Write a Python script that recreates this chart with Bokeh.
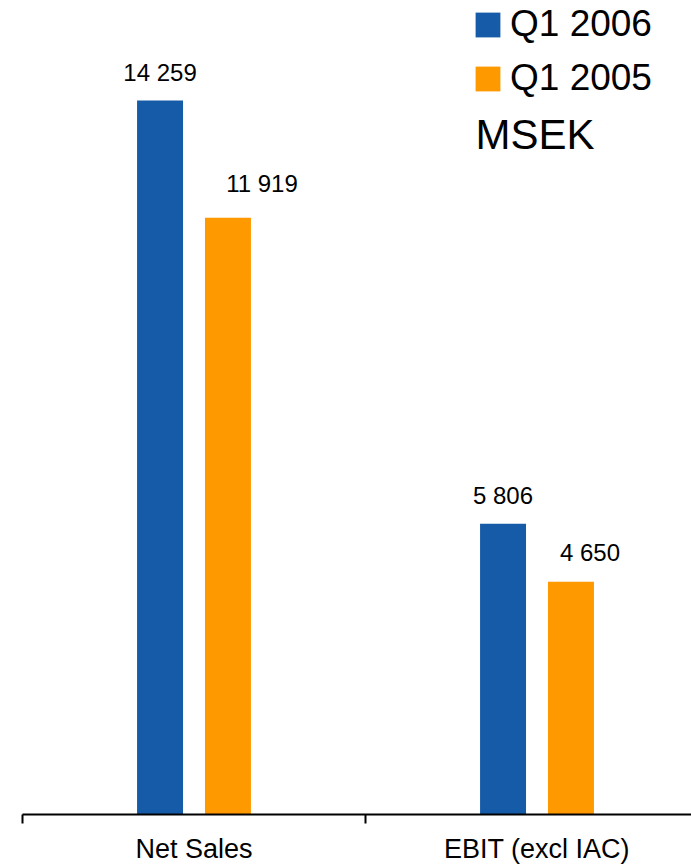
import numpy as np
from bokeh.plotting import figure
from bokeh.models import (ColumnDataSource, Range1d, FixedTicker, LabelSet, Label,
                          Legend, LegendItem)
from bokeh.core.properties import value
from bokeh.transform import dodge
from bokeh.embed import file_html
from bokeh.resources import INLINE

categories = ["Net Sales", "EBIT (excl IAC)"]
series_names = ["Q1 2006", "Q1 2005"]
q1_2006 = [14259, 5806]
q1_2005 = [11919, 4650]
unit_label = "MSEK"

# label placement styles (pixels)
label_dx_2005 = [34, 19]
label_dy_2005 = [26, 21]

colors = ["#165BA8", "#FF9900"]
FONT = "Liberation Sans"

def fmt(v):
    return f"{v:,}".replace(",", " ")

xpos = np.arange(len(categories)) + 0.5
src = ColumnDataSource(dict(
    x=xpos,
    a=q1_2006, b=q1_2005,
    la=[fmt(v) for v in q1_2006],
    lb=[fmt(v) for v in q1_2005],
    dxb=label_dx_2005, dyb=label_dy_2005,
))

p = figure(width=691, height=866, output_backend="svg", toolbar_location=None,
           x_range=Range1d(0, 669 / 343), y_range=Range1d(0, 16257),
           min_border_left=22, min_border_right=0, min_border_top=0,
           min_border_bottom=52)
p.outline_line_color = None
p.grid.visible = False
p.yaxis.visible = False
p.background_fill_color = "white"
p.border_fill_color = "white"

off = 0.099
bw = 0.134
r1 = p.vbar(x=dodge("x", -off, range=p.x_range), top="a", width=bw, source=src,
            fill_color=colors[0], line_color=None)
r2 = p.vbar(x=dodge("x", off, range=p.x_range), top="b", width=bw, source=src,
            fill_color=colors[1], line_color=None)

lab1 = LabelSet(x=dodge("x", -off, range=p.x_range), y="a", text="la", source=src,
                text_align="center", text_baseline="alphabetic", y_offset=20,
                text_font=value(FONT), text_font_size="24px", text_color="black")
lab2 = LabelSet(x=dodge("x", off, range=p.x_range), y="b", text="lb", source=src,
                text_align="center", text_baseline="alphabetic", y_offset="dyb",
                x_offset="dxb",
                text_font=value(FONT), text_font_size="24px", text_color="black")
p.add_layout(lab1)
p.add_layout(lab2)

ax = p.xaxis[0]
ax.ticker = FixedTicker(ticks=list(xpos), minor_ticks=list(range(len(categories) + 1)))
ax.major_label_overrides = {float(x): c for x, c in zip(xpos, categories)}
ax.major_tick_line_color = None
ax.major_tick_out = 0
ax.major_tick_in = 0
ax.minor_tick_line_color = "black"
ax.minor_tick_line_width = 2
ax.minor_tick_out = 9
ax.minor_tick_in = 0
ax.axis_line_color = "black"
ax.axis_line_width = 2
ax.major_label_standoff = 10
ax.major_label_text_font = FONT
ax.major_label_text_font_size = "27px"
ax.major_label_text_color = "black"

legend = Legend(items=[LegendItem(label=series_names[0], renderers=[r1]),
                       LegendItem(label=series_names[1], renderers=[r2])],
                location=(450, 715), orientation="vertical",
                glyph_width=31, glyph_height=31, label_standoff=7,
                padding=0, margin=0, spacing=12,
                label_text_font=FONT, label_text_font_size="37px",
                label_text_color="black",
                border_line_color=None, background_fill_alpha=0)
p.add_layout(legend)

p.add_layout(Label(x=453, y=680, x_units="screen", y_units="screen", text=unit_label,
                   text_font=FONT, text_font_size="42px", text_color="black",
                   text_baseline="alphabetic"))

open("out.html", "w").write(file_html(p, INLINE))
